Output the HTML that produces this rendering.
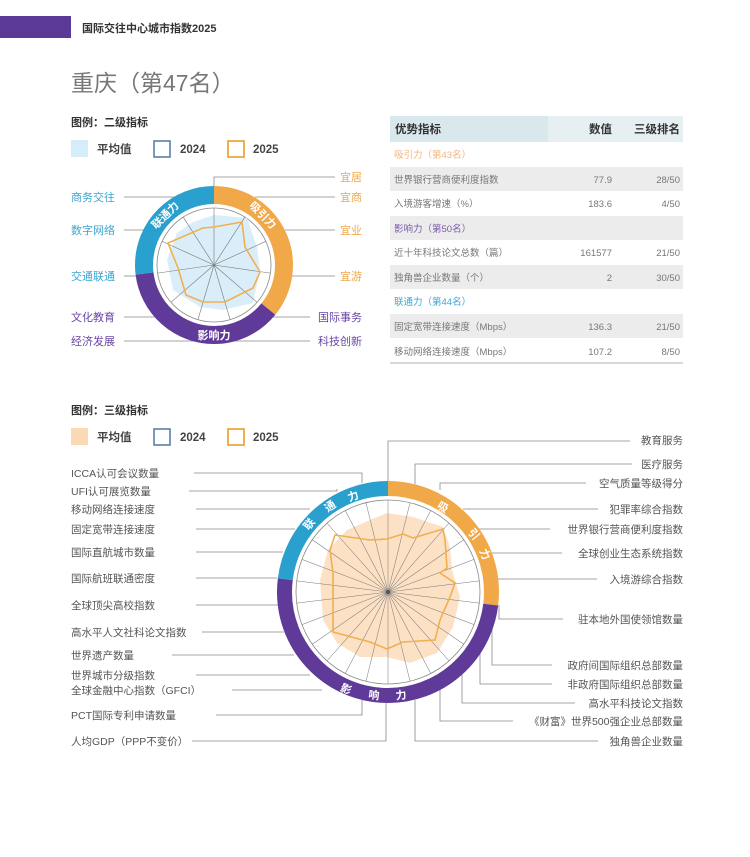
<!DOCTYPE html>
<html><head><meta charset="utf-8"><style>
body{margin:0;background:#fff;}
svg text{font-family:"Liberation Sans","Noto Sans CJK SC",sans-serif;}
</style></head><body>
<svg width="750" height="852" viewBox="0 0 750 852" xmlns="http://www.w3.org/2000/svg">
<rect x="0" y="16" width="71" height="22" fill="#5b3a96"/>
<text x="82" y="32" font-size="11" font-weight="bold" fill="#333">国际交往中心城市指数2025</text>
<text x="71" y="91" font-size="23" fill="#777">重庆（第47名）</text>
<text x="71" y="126" font-size="11" font-weight="bold" fill="#333">图例：二级指标</text>
<rect x="71" y="140" width="17" height="17" fill="#d6ecf8"/>
<text x="97" y="153" font-size="11.5" font-weight="bold" fill="#444">平均值</text>
<rect x="154" y="141" width="16" height="16" fill="none" stroke="#5b7fa6" stroke-width="1.6"/>
<text x="180" y="153" font-size="11.5" font-weight="bold" fill="#444">2024</text>
<rect x="228" y="141" width="16" height="16" fill="none" stroke="#f0a640" stroke-width="1.8"/>
<text x="253" y="153" font-size="11.5" font-weight="bold" fill="#444">2025</text>

<!-- table -->
<rect x="390" y="116" width="293" height="26" fill="#e6f0f3"/>
<rect x="390" y="116" width="158" height="26" fill="#d9e8ed"/>
<text x="395" y="133" font-size="11.5" font-weight="bold" fill="#333">优势指标</text>
<text x="612" y="133" font-size="11.5" font-weight="bold" fill="#333" text-anchor="end">数值</text>
<text x="680" y="133" font-size="11.5" font-weight="bold" fill="#333" text-anchor="end">三级排名</text>
<g font-size="9.5" fill="#777">
<text x="394" y="158" fill="#f3b57e">吸引力（第43名）</text>
<rect x="390" y="167" width="293" height="24" fill="#ececec"/>
<text x="394" y="183">世界银行营商便利度指数</text><text x="612" y="183" text-anchor="end">77.9</text><text x="680" y="183" text-anchor="end">28/50</text>
<text x="394" y="207">入境游客增速（%）</text><text x="612" y="207" text-anchor="end">183.6</text><text x="680" y="207" text-anchor="end">4/50</text>
<rect x="390" y="216" width="293" height="24" fill="#ececec"/>
<text x="394" y="232" fill="#7b5ba8">影响力（第50名）</text>
<text x="394" y="256">近十年科技论文总数（篇）</text><text x="612" y="256" text-anchor="end">161577</text><text x="680" y="256" text-anchor="end">21/50</text>
<rect x="390" y="265" width="293" height="24" fill="#ececec"/>
<text x="394" y="281">独角兽企业数量（个）</text><text x="612" y="281" text-anchor="end">2</text><text x="680" y="281" text-anchor="end">30/50</text>
<text x="394" y="305" fill="#3ba6d2">联通力（第44名）</text>
<rect x="390" y="314" width="293" height="24" fill="#ececec"/>
<text x="394" y="330">固定宽带连接速度（Mbps）</text><text x="612" y="330" text-anchor="end">136.3</text><text x="680" y="330" text-anchor="end">21/50</text>
<text x="394" y="355">移动网络连接速度（Mbps）</text><text x="612" y="355" text-anchor="end">107.2</text><text x="680" y="355" text-anchor="end">8/50</text>
</g>
<line x1="390" y1="363" x2="683" y2="363" stroke="#ccc" stroke-width="1.5"/>

<!-- small chart lines -->
<g stroke="#888" stroke-width="0.8" fill="none">
<polyline points="214,200 214,177 335,177"/>
<line x1="255" y1="197" x2="335" y2="197"/>
<line x1="285" y1="230" x2="335" y2="230"/>
<line x1="290" y1="276" x2="335" y2="276"/>
<line x1="265" y1="317" x2="310" y2="317"/>
<line x1="200" y1="341" x2="310" y2="341"/>
<line x1="124" y1="197" x2="175" y2="197"/>
<line x1="124" y1="230" x2="145" y2="230"/>
<line x1="124" y1="276" x2="140" y2="276"/>
<line x1="124" y1="317" x2="160" y2="317"/>
<line x1="124" y1="341" x2="225" y2="341"/>
</g>
<g font-size="11">
<text x="362" y="181" text-anchor="end" fill="#f0a848">宜居</text>
<text x="362" y="201" text-anchor="end" fill="#f0a848">宜商</text>
<text x="362" y="234" text-anchor="end" fill="#f0a848">宜业</text>
<text x="362" y="280" text-anchor="end" fill="#f0a848">宜游</text>
<text x="362" y="321" text-anchor="end" fill="#6a46a6">国际事务</text>
<text x="362" y="345" text-anchor="end" fill="#6a46a6">科技创新</text>
<text x="71" y="201" fill="#3ba6d2">商务交往</text>
<text x="71" y="234" fill="#3ba6d2">数字网络</text>
<text x="71" y="280" fill="#3ba6d2">交通联通</text>
<text x="71" y="321" fill="#6a46a6">文化教育</text>
<text x="71" y="345" fill="#6a46a6">经济发展</text>
</g>
<!-- small ring -->
<g transform="rotate(-90 214 265)" fill="none" stroke-width="18">
<circle cx="214" cy="265" r="70" stroke="#f0a848" stroke-dasharray="157.6 500"/>
<circle cx="214" cy="265" r="70" stroke="#5f3a99" stroke-dasharray="163.6 500" stroke-dashoffset="-157.6"/>
<circle cx="214" cy="265" r="70" stroke="#2aa0cf" stroke-dasharray="118.6 500" stroke-dashoffset="-321.2"/>
</g>
<circle cx="214" cy="265" r="57" fill="#fff" stroke="#888" stroke-width="0.8"/>
<polygon points="214,215 247,218 257,247 260,270 253,303 223,310 200,307 173,290 167,260 177,233 193,222" fill="#d6ecf8" opacity="0.9"/>
<g stroke="#777" stroke-width="0.6">
<line x1="214" y1="265" x2="214" y2="208" transform="rotate(0 214 265)"/>
<line x1="214" y1="265" x2="214" y2="208" transform="rotate(32.73 214 265)"/>
<line x1="214" y1="265" x2="214" y2="208" transform="rotate(65.45 214 265)"/>
<line x1="214" y1="265" x2="214" y2="208" transform="rotate(98.18 214 265)"/>
<line x1="214" y1="265" x2="214" y2="208" transform="rotate(130.9 214 265)"/>
<line x1="214" y1="265" x2="214" y2="208" transform="rotate(163.6 214 265)"/>
<line x1="214" y1="265" x2="214" y2="208" transform="rotate(196.4 214 265)"/>
<line x1="214" y1="265" x2="214" y2="208" transform="rotate(229.1 214 265)"/>
<line x1="214" y1="265" x2="214" y2="208" transform="rotate(261.8 214 265)"/>
<line x1="214" y1="265" x2="214" y2="208" transform="rotate(294.5 214 265)"/>
<line x1="214" y1="265" x2="214" y2="208" transform="rotate(327.3 214 265)"/>
</g>
<polygon points="214,227 242,222 245,247 260,272 253,288 225,302 203,302 186,295 178,268 168,243 203,228" fill="none" stroke="#f0b050" stroke-width="1.6"/>
<g font-size="11" font-weight="bold" fill="#fff" text-anchor="middle">
<text x="263" y="219" transform="rotate(45 263 215)">吸引力</text>
<text x="165" y="219" transform="rotate(-45 165 215)">联通力</text>
<text x="214" y="339">影响力</text>
</g>

<!-- big chart legend -->
<text x="71" y="414" font-size="11" font-weight="bold" fill="#333">图例：三级指标</text>
<rect x="71" y="428" width="17" height="17" fill="#fcd9b5"/>
<text x="97" y="441" font-size="11.5" font-weight="bold" fill="#444">平均值</text>
<rect x="154" y="429" width="16" height="16" fill="none" stroke="#5b7fa6" stroke-width="1.6"/>
<text x="180" y="441" font-size="11.5" font-weight="bold" fill="#444">2024</text>
<rect x="228" y="429" width="16" height="16" fill="none" stroke="#f0a640" stroke-width="1.8"/>
<text x="253" y="441" font-size="11.5" font-weight="bold" fill="#444">2025</text>

<!-- big connector lines -->
<g stroke="#888" stroke-width="0.8" fill="none">
<polyline points="388,481 388,441 630,441"/>
<polyline points="415,484 415,464 632,464"/>
<polyline points="440,490 440,483 586,483"/>
<line x1="463" y1="509" x2="598" y2="509"/>
<line x1="478" y1="529" x2="550" y2="529"/>
<line x1="492" y1="553" x2="562" y2="553"/>
<line x1="498" y1="579" x2="597" y2="579"/>
<polyline points="499,605 499,619 563,619"/>
<polyline points="492,630 492,665 552,665"/>
<polyline points="480,650 480,684 552,684"/>
<polyline points="462,672 462,703 575,703"/>
<polyline points="440,690 440,721 513,721"/>
<polyline points="415,700 415,741 598,741"/>
<polyline points="194,473 362,473 362,483"/>
<polyline points="189,491 337,491 337,489"/>
<line x1="196" y1="509" x2="310" y2="509"/>
<line x1="196" y1="529" x2="295" y2="529"/>
<line x1="196" y1="552" x2="283" y2="552"/>
<line x1="196" y1="578" x2="277" y2="578"/>
<line x1="196" y1="605" x2="278" y2="605"/>
<line x1="202" y1="632" x2="284" y2="632"/>
<line x1="172" y1="655" x2="294" y2="655"/>
<line x1="196" y1="675" x2="310" y2="675"/>
<line x1="232" y1="690" x2="322" y2="690"/>
<polyline points="216,715 362,715 362,700"/>
<polyline points="192,741 386,741 386,703"/>
</g>
<g font-size="10.5" fill="#555">
<text x="683" y="444" text-anchor="end">教育服务</text>
<text x="683" y="468" text-anchor="end">医疗服务</text>
<text x="683" y="487" text-anchor="end">空气质量等级得分</text>
<text x="683" y="513" text-anchor="end">犯罪率综合指数</text>
<text x="683" y="533" text-anchor="end">世界银行营商便利度指数</text>
<text x="683" y="557" text-anchor="end">全球创业生态系统指数</text>
<text x="683" y="583" text-anchor="end">入境游综合指数</text>
<text x="683" y="623" text-anchor="end">驻本地外国使领馆数量</text>
<text x="683" y="669" text-anchor="end">政府间国际组织总部数量</text>
<text x="683" y="688" text-anchor="end">非政府国际组织总部数量</text>
<text x="683" y="707" text-anchor="end">高水平科技论文指数</text>
<text x="683" y="725" text-anchor="end">《财富》世界500强企业总部数量</text>
<text x="683" y="745" text-anchor="end">独角兽企业数量</text>
<text x="71" y="477">ICCA认可会议数量</text>
<text x="71" y="495">UFI认可展览数量</text>
<text x="71" y="513">移动网络连接速度</text>
<text x="71" y="533">固定宽带连接速度</text>
<text x="71" y="556">国际直航城市数量</text>
<text x="71" y="582">国际航班联通密度</text>
<text x="71" y="609">全球顶尖高校指数</text>
<text x="71" y="636">高水平人文社科论文指数</text>
<text x="71" y="659">世界遗产数量</text>
<text x="71" y="679">世界城市分级指数</text>
<text x="71" y="694">全球金融中心指数（GFCI）</text>
<text x="71" y="719">PCT国际专利申请数量</text>
<text x="71" y="745">人均GDP（PPP不变价）</text>
</g>

<!-- big ring -->
<g transform="rotate(-90 388 592)" fill="none" stroke-width="15">
<circle cx="388" cy="592" r="103.5" stroke="#f0a848" stroke-dasharray="175.2 700"/>
<circle cx="388" cy="592" r="103.5" stroke="#5f3a99" stroke-dasharray="325.2 700" stroke-dashoffset="-175.2"/>
<circle cx="388" cy="592" r="103.5" stroke="#2aa0cf" stroke-dasharray="149.9 700" stroke-dashoffset="-500.4"/>
</g>
<circle cx="388" cy="592" r="92" fill="#fff" stroke="#888" stroke-width="0.8"/>
<polygon points="387,513 413,517 443,527 450,547 452,570 460,597 453,627 437,653 410,663 387,657 360,657 337,643 323,620 320,580 328,550 347,530 370,520" fill="#fcd9b5" opacity="0.8"/>
<g stroke="#777" stroke-width="0.5">
<line x1="388" y1="500" x2="388" y2="684" transform="rotate(0 388 592)"/>
<line x1="388" y1="500" x2="388" y2="684" transform="rotate(13.846 388 592)"/>
<line x1="388" y1="500" x2="388" y2="684" transform="rotate(27.69 388 592)"/>
<line x1="388" y1="500" x2="388" y2="684" transform="rotate(41.54 388 592)"/>
<line x1="388" y1="500" x2="388" y2="684" transform="rotate(55.38 388 592)"/>
<line x1="388" y1="500" x2="388" y2="684" transform="rotate(69.23 388 592)"/>
<line x1="388" y1="500" x2="388" y2="684" transform="rotate(83.08 388 592)"/>
<line x1="388" y1="500" x2="388" y2="684" transform="rotate(96.92 388 592)"/>
<line x1="388" y1="500" x2="388" y2="684" transform="rotate(110.77 388 592)"/>
<line x1="388" y1="500" x2="388" y2="684" transform="rotate(124.62 388 592)"/>
<line x1="388" y1="500" x2="388" y2="684" transform="rotate(138.46 388 592)"/>
<line x1="388" y1="500" x2="388" y2="684" transform="rotate(152.31 388 592)"/>
<line x1="388" y1="500" x2="388" y2="684" transform="rotate(166.15 388 592)"/>
</g>
<circle cx="388" cy="592" r="2" fill="#555"/>
<polygon points="387,539 403,534 413,538 443,529 445,540 447,568 440,573 455,583 450,597 440,620 435,640 403,642 387,649 370,642 333,632 333,573 330,550 335,535 370,540" fill="none" stroke="#f0b050" stroke-width="1.6"/>
<g font-size="11" font-weight="bold" fill="#fff" text-anchor="middle">
<text x="443" y="511" transform="rotate(32 443 507)">吸</text>
<text x="474" y="538" transform="rotate(50 474 534)">引</text>
<text x="485" y="558" transform="rotate(66 485 554)">力</text>
<text x="309" y="528" transform="rotate(-52 309 524)">联</text>
<text x="330" y="510" transform="rotate(-34 330 506)">通</text>
<text x="353" y="500" transform="rotate(-20 353 496)">力</text>
<text x="346" y="693" transform="rotate(24 346 689)">影</text>
<text x="374" y="699" transform="rotate(7 374 695)">响</text>
<text x="401" y="699" transform="rotate(-7 401 695)">力</text>
</g>
</svg>
</body></html>
